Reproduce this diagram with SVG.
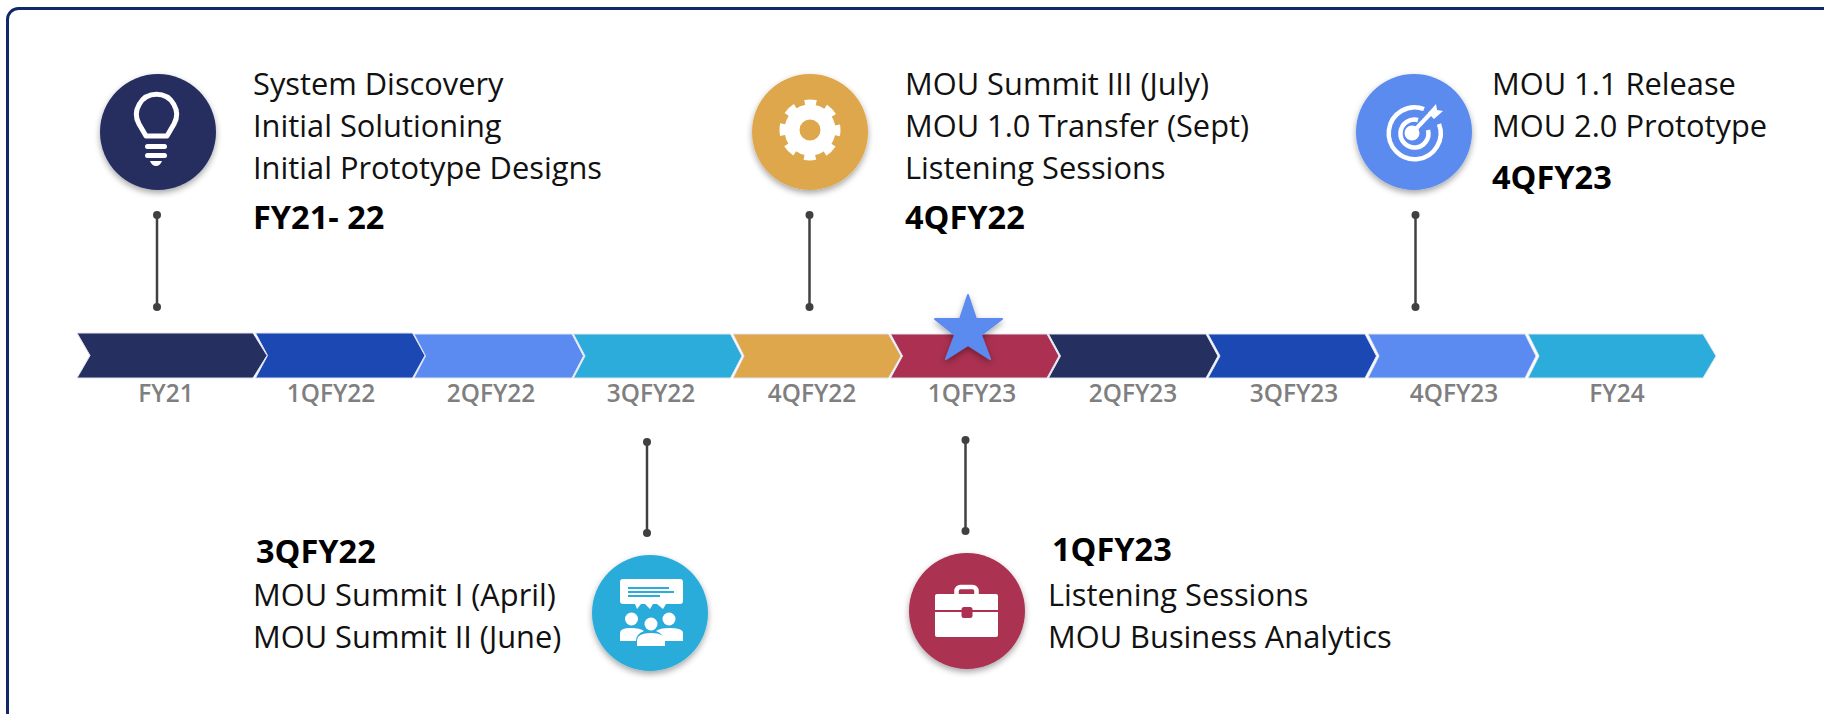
<svg xmlns="http://www.w3.org/2000/svg" width="1824" height="714" viewBox="0 0 1824 714">
<style>
.t{font-family:"Open Sans","Noto Sans",sans-serif;font-size:30.800px;fill:#111}
.b{font-family:"Open Sans","Noto Sans",sans-serif;font-size:32.500px;font-weight:700;fill:#000}
.l{font-family:"Open Sans","Noto Sans",sans-serif;font-size:24.400px;font-weight:600;fill:#7f7f7f;text-anchor:middle}
.c{stroke:#404040;stroke-width:2.5;fill:none}
.d{fill:#404040}
.w{fill:#fff}
.ws{fill:none;stroke:#fff}
.ch{stroke:#dfe4f2;stroke-width:1}
</style>
<defs><filter id="s" x="-20%" y="-20%" width="140%" height="140%"><feDropShadow dx="0" dy="3" stdDeviation="3" flood-color="#000" flood-opacity=".35"/></filter></defs>
<rect width="1824" height="714" fill="#fff"/>
<rect id="frame" x="7.500" y="8.500" width="1830" height="730" rx="11" fill="#fff" stroke="#10296a" stroke-width="3"/>
<g id="timeline">
<path class="ch" fill="#252f60" d="M77 333H253L267 355.500L253 378H77L90 355.500Z"/>
<path class="ch" fill="#1c48b3" d="M255.500 333H412.500L425 355.500L412.500 378H255.500L267.500 355.500Z"/>
<path class="ch" fill="#5b8bf0" d="M414 334H572L583.500 356L572 378H414L425.500 356Z"/>
<path class="ch" fill="#2cacdb" d="M573.500 334H730.500L742 356L730.500 378H573.500L585 356Z"/>
<path class="ch" fill="#dfa74c" d="M733 334H888.500L901 356L888.500 378H733L744 356Z"/>
<path class="ch" fill="#ab3051" d="M890.500 334H1047L1059 356L1047 378H890.500L902.500 356Z"/>
<path class="ch" fill="#252f60" d="M1048.500 334H1206L1218 356L1206 378H1048.500L1060.500 356Z"/>
<path class="ch" fill="#1c48b3" d="M1208 334H1365L1376.500 356L1365 378H1208L1220 356Z"/>
<path class="ch" fill="#5b8bf0" d="M1368 334H1525L1536 356L1525 378H1368L1379 356Z"/>
<path class="ch" fill="#2cacdb" d="M1528 334H1703L1716 356L1703 378H1528L1539 356Z"/>
<path id="star" fill="#5b8bf0" stroke="#5b8bf0" stroke-width="2" stroke-linejoin="round" filter="url(#s)" d="M968 295L976 319H1002L981 335L990 359L968 345L946 359L955 335L935 319H960Z"/>
<text class="l" x="166" y="402">FY21</text>
<text class="l" x="331" y="402">1QFY22</text>
<text class="l" x="491" y="402">2QFY22</text>
<text class="l" x="651" y="402">3QFY22</text>
<text class="l" x="812" y="402">4QFY22</text>
<text class="l" x="972" y="402">1QFY23</text>
<text class="l" x="1133" y="402">2QFY23</text>
<text class="l" x="1294" y="402">3QFY23</text>
<text class="l" x="1454" y="402">4QFY23</text>
<text class="l" x="1617" y="402">FY24</text>
</g>
<g id="connectors">
<path class="c" d="M157 215V307"/><circle class="d" cx="157" cy="215" r="4"/><circle class="d" cx="157" cy="307" r="4"/>
<path class="c" d="M809.500 215V307"/><circle class="d" cx="809.500" cy="215" r="4"/><circle class="d" cx="809.500" cy="307" r="4"/>
<path class="c" d="M1415.500 215V307"/><circle class="d" cx="1415.500" cy="215" r="4"/><circle class="d" cx="1415.500" cy="307" r="4"/>
<path class="c" d="M647 442V533"/><circle class="d" cx="647" cy="442" r="4"/><circle class="d" cx="647" cy="533" r="4"/>
<path class="c" d="M965.500 440V531"/><circle class="d" cx="965.500" cy="440" r="4"/><circle class="d" cx="965.500" cy="531" r="4"/>
</g>
<g id="node-fy21">
<circle cx="158" cy="132" r="58" fill="#252f60" filter="url(#s)"/>
<path class="ws" stroke-width="5" d="M146 136L139 124A20 20 0 1 1 174 124L167 136Z" stroke-linejoin="round"/>
<rect class="w" x="145" y="144" width="22" height="5" rx="2.500"/><rect class="w" x="145" y="153" width="22" height="5" rx="2.500"/>
<path class="w" d="M150 161H162Q160 166 156 166Q152 166 150 161Z"/>
<text class="t" x="253" y="95">System Discovery</text><text class="t" x="253" y="137">Initial Solutioning</text><text class="t" x="253" y="179">Initial Prototype Designs</text><text class="b" x="253" y="229">FY21- 22</text>
</g>
<g id="node-3qfy22">
<circle cx="650" cy="613" r="58" fill="#2cacdb" filter="url(#s)"/>
<path class="w" d="M623 579H680Q683 579 683 582V601Q683 604 680 604H666L663 609L657 604H653L650 609L645 604H641L637 609L635 604H623Q620 604 620 601V582Q620 579 623 579Z"/>
<path stroke="#2cacdb" stroke-width="2" d="M628 588H669M628 592H674M628 596H660"/>
<circle class="w" cx="631.500" cy="619" r="6.500"/><circle class="w" cx="669" cy="619" r="6.500"/>
<path class="w" d="M620 641V633Q620 628 631 628Q640 628 644 631Q636 634 636 641Z"/><path class="w" d="M683 641V633Q683 628 669 628Q660 628 656 631Q664 634 664 641Z"/>
<circle class="w" cx="651" cy="624" r="6.500"/><path class="w" d="M637 646V641Q637 633 651 633Q665 633 665 641V646Z"/>
<text class="b" x="256" y="563">3QFY22</text><text class="t" x="253" y="606">MOU Summit I (April)</text><text class="t" x="253" y="648">MOU Summit II (June)</text>
</g>
<g id="node-4qfy22">
<circle cx="810" cy="132" r="58" fill="#dfa74c" filter="url(#s)"/>
<circle cx="810" cy="130" r="18" fill="none" stroke="#fff" stroke-width="15"/>
<circle cx="810" cy="130" r="27" fill="none" stroke="#fff" stroke-width="7" stroke-dasharray="11.500 9.706" stroke-dashoffset="5.750"/>
<text class="t" x="905" y="95">MOU Summit III (July)</text><text class="t" x="905" y="137">MOU 1.0 Transfer (Sept)</text><text class="t" x="905" y="179">Listening Sessions</text><text class="b" x="905" y="229">4QFY22</text>
</g>
<g id="node-1qfy23">
<circle cx="967" cy="611" r="58" fill="#ab3051" filter="url(#s)"/>
<rect class="ws" x="956.500" y="587" width="20" height="12" rx="4" stroke-width="4.500"/>
<rect class="w" x="935" y="594" width="63" height="43" rx="2"/>
<path stroke="#ab3051" stroke-width="2" d="M935 611H998"/>
<rect x="961.500" y="607" width="11" height="11" rx="2.500" fill="#ab3051"/>
<text class="b" x="1052" y="561">1QFY23</text><text class="t" x="1048" y="606">Listening Sessions</text><text class="t" x="1048" y="648">MOU Business Analytics</text>
</g>
<g id="node-4qfy23">
<circle cx="1414" cy="132" r="58" fill="#5b8bf0" filter="url(#s)"/>
<path class="ws" stroke-width="4.500" d="M1424 109A26 26 0 1 0 1439 124"/>
<path class="ws" stroke-width="4.500" d="M1418 120A14 14 0 1 0 1428 130"/>
<circle class="w" cx="1412" cy="133" r="7.500"/>
<path class="ws" stroke-width="4" d="M1412 133L1431 113"/>
<path class="w" d="M1428 113L1436 104L1437 110L1443 111L1434 119Z"/>
<text class="t" x="1492" y="95">MOU 1.1 Release</text><text class="t" x="1492" y="137">MOU 2.0 Prototype</text><text class="b" x="1492" y="189">4QFY23</text>
</g>
</svg>
